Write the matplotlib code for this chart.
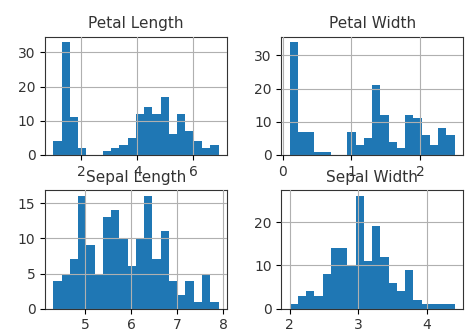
import numpy as np
import matplotlib.pyplot as plt

titles = ['Petal Length', 'Petal Width', 'Sepal Length', 'Sepal Width']
ranges = [(1.0, 6.9), (0.1, 2.5), (4.3, 7.9), (2.0, 4.4)]

petal_length = [4, 33, 11, 2, 0, 0, 1, 2, 3, 5, 12, 14, 12, 17, 6, 12, 7, 4, 2, 3]
petal_width = [34, 7, 7, 1, 1, 0, 0, 7, 3, 5, 21, 12, 4, 2, 12, 11, 6, 3, 8, 6]
sepal_length = [4, 5, 7, 16, 9, 5, 13, 14, 10, 6, 10, 16, 7, 11, 4, 2, 4, 1, 5, 1]
sepal_width = [1, 3, 4, 3, 8, 14, 14, 10, 26, 11, 19, 12, 6, 4, 9, 2, 1, 1, 1, 1]

counts = [petal_length, petal_width, sepal_length, sepal_width]

fig, axes = plt.subplots(2, 2, figsize=(4.7, 3.32), dpi=100)
fig.subplots_adjust(left=0.096, right=0.985, top=0.89, bottom=0.07,
                    wspace=0.30, hspace=0.30)

for ax, title, (lo, hi), c in zip(axes.flat, titles, ranges, counts):
    edges = np.linspace(lo, hi, len(c) + 1)
    centers = (edges[:-1] + edges[1:]) / 2
    ax.hist(centers, bins=edges, weights=c, color='#1f77b4')
    ax.set_title(title, fontsize=11, color='#333333')
    ax.grid(True)
    ax.set_axisbelow(False)
    ax.tick_params(labelsize=10, labelcolor='#333333')
    for s in ax.spines.values():
        s.set_color('#333333')

fig.savefig('out.png')
